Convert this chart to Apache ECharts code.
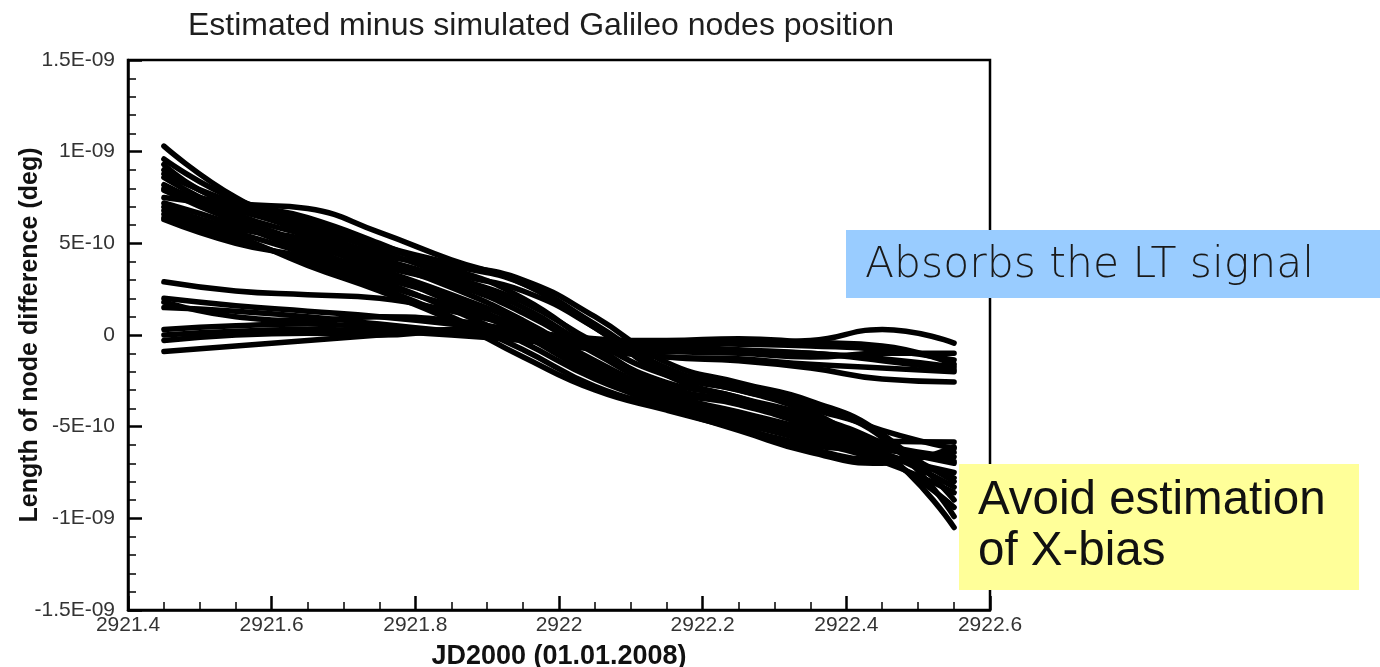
<!DOCTYPE html>
<html>
<head>
<meta charset="utf-8">
<script src="https://cdn.jsdelivr.net/npm/echarts@6/dist/echarts.min.js"></script>
<style>
html,body{margin:0;padding:0;background:#fff;}
#chart{width:1380px;height:667px;}
</style>
</head>
<body>
<div id="chart"></div>
<script>
// JD2000 sample epochs (days)
const jd = [2921.45, 2921.55, 2921.65, 2921.75, 2921.85, 2921.95, 2922.05, 2922.15, 2922.25, 2922.35, 2922.45, 2922.55];

// Node length differences, in units of 1E-10 deg
// Group A: curves that absorb the long-term signal
const a01 = [10.3, 7.5, 5.8, 4.4, 3.6, 2.0, -0.6, -2.8, -3.6, -4.6, -6.3, -10.5];
const a02 = [9.3, 7.2, 6.9, 5.6, 4.1, 2.8, 0.4, -2.0, -3.0, -4.0, -5.6, -9.9];
const a03 = [8.8, 7.2, 6.2, 4.9, 3.9, 3.0, 1.0, -1.5, -2.6, -3.6, -5.4, -9.0];
const a04 = [8.6, 6.6, 5.4, 4.0, 2.6, 0.8, -1.4, -3.2, -4.2, -5.2, -6.4, -8.3];
const a05 = [7.9, 6.2, 4.8, 3.2, 2.0, 0.2, -2.0, -3.6, -4.6, -5.6, -6.6, -7.5];
const a06 = [7.5, 6.8, 5.6, 4.2, 3.0, 1.5, -0.8, -2.6, -3.4, -4.8, -6.0, -6.65];
const a07 = [6.8, 5.6, 4.4, 3.0, 1.4, -0.4, -2.4, -3.8, -5.0, -6.2, -6.8, -6.4];
const a08 = [6.4, 5.2, 4.0, 2.6, 1.0, -0.8, -2.8, -4.0, -5.2, -6.4, -7.0, -6.1];
const a09 = [9.0, 7.0, 5.9, 4.6, 3.2, 1.8, -0.4, -2.2, -3.0, -4.2, -5.8, -5.84];
const a10 = [8.2, 6.4, 5.0, 3.6, 2.2, 0.6, -1.6, -3.4, -4.4, -5.4, -6.2, -7.0];
const a11 = [7.2, 6.0, 4.6, 3.4, 1.8, 0.0, -2.2, -3.9, -4.8, -5.8, -6.9, -8.6];
const a12 = [6.6, 5.4, 3.8, 2.4, 0.8, -1.2, -3.0, -4.1, -5.1, -6.0, -6.5, -7.8];
const a13 = [8.0, 7.0, 6.0, 4.8, 3.8, 2.8, 0.6, -1.8, -2.8, -3.8, -5.2, -6.2];
const a14 = [7.0, 5.8, 5.2, 3.8, 2.8, 1.2, -1.0, -3.0, -3.8, -5.0, -6.6, -9.4];
const a15 = [6.3, 5.0, 4.2, 2.8, 1.6, 0.4, -1.8, -3.4, -4.4, -5.6, -6.2, -6.9];
const a16 = [9.6, 7.4, 6.4, 5.0, 3.4, 2.4, 0.4, -2.2, -3.4, -4.4, -5.9, -8.0];
// Group B: curves that avoid estimation of X-bias
const b01 = [2.9, 2.4, 2.2, 2.0, 1.3, 0.4, -0.6, -1.2, -1.4, -1.8, -2.4, -2.56];
const b02 = [2.0, 1.6, 1.3, 1.0, 0.6, 0.1, -0.4, -0.8, -0.9, -1.0, -1.3, -1.75];
const b03 = [1.8, 1.0, 0.8, 1.0, 0.8, 0.2, -0.2, -0.4, -0.5, -0.6, -0.8, -1.36];
const b04 = [1.5, 1.3, 1.0, 0.6, 0.2, -0.2, -0.8, -1.2, -1.3, -1.6, -1.8, -2.0];
const b05 = [0.3, 0.5, 0.6, 0.4, 0.1, -0.2, -0.5, -0.5, -0.4, -0.3, 0.3, -0.44];
const b06 = [0.0, 0.2, 0.3, 0.2, 0.0, -0.3, -0.7, -0.9, -1.0, -1.2, -1.0, -1.0];
const b07 = [-0.3, 0.0, 0.1, 0.0, 0.2, -0.1, -0.3, -0.3, -0.2, -0.4, -0.6, -1.6];
const b08 = [-0.9, -0.6, -0.3, 0.0, 0.3, 0.1, -0.3, -0.6, -0.8, -1.0, -1.4, -1.9];

const xTickLabels = {"2921.4":"2921.4","2921.6":"2921.6","2921.8":"2921.8","2922":"2922","2922.2":"2922.2","2922.4":"2922.4","2922.6":"2922.6"};
const yTickLabels = ["-1.5E-09", "-1E-09", "-5E-10", "0", "5E-10", "1E-09", "1.5E-09"];

const allCurves = [a01,a02,a03,a04,a05,a06,a07,a08,a09,a10,a11,a12,a13,a14,a15,a16,
                   b01,b02,b03,b04,b05,b06,b07,b08];

const chart = echarts.init(document.getElementById('chart'), null, {renderer: 'canvas'});
const series = allCurves.map(function (vals, k) {
  return {
    type: 'line',
    name: 'curve' + (k + 1),
    data: jd.map(function (x, i) { return [x, vals[i]]; }),
    showSymbol: false,
    smooth: 0.5,
    silent: true,
    lineStyle: {color: '#000', width: 5.5, cap: 'round', join: 'round'}
  };
});

const FONT = '"Liberation Sans", Arial, Helvetica, sans-serif';

chart.setOption({
  animation: false,
  backgroundColor: '#fff',
  title: {
    text: 'Estimated minus simulated Galileo nodes position',
    left: 536, textAlign: 'center', top: 5,
    textStyle: {fontFamily: FONT, fontSize: 32, fontWeight: 'normal', color: '#1e1e1e'}
  },
  grid: {
    left: 128, right: 390, top: 60, bottom: 57,
    containLabel: false, outerBoundsMode: 'none',
    show: true, borderColor: '#000', borderWidth: 2.5, backgroundColor: '#fff'
  },
  xAxis: {
    type: 'value', min: 2921.4, max: 2922.6, interval: 0.2,
    name: 'JD2000 (01.01.2008)', nameLocation: 'middle', nameGap: 33, nameMoveOverlap: false,
    nameTextStyle: {fontFamily: FONT, fontSize: 27, fontWeight: 'bold', color: '#111'},
    axisLine: {show: true, onZero: false, lineStyle: {color: '#000', width: 2.5}},
    axisTick: {show: true, inside: true, length: 14, lineStyle: {color: '#000', width: 2.5}},
    minorTick: {show: true, splitNumber: 4, length: 8, lineStyle: {color: '#000', width: 1.5}},
    splitLine: {show: false},
    axisLabel: {
      fontFamily: FONT, fontSize: 21, color: '#333', margin: 5, hideOverlap: false,
      formatter: function (v) { const k = String(+v.toFixed(1)); return xTickLabels[k] || k; }
    }
  },
  yAxis: {
    type: 'value', min: -15, max: 15, interval: 5,
    name: 'Length of node difference (deg)', nameLocation: 'middle', nameGap: 85, nameMoveOverlap: false,
    nameTextStyle: {fontFamily: FONT, fontSize: 25, fontWeight: 'bold', color: '#111'},
    axisLine: {show: true, onZero: false, lineStyle: {color: '#000', width: 2.5}},
    axisTick: {show: true, inside: true, length: 14, lineStyle: {color: '#000', width: 2.5}},
    minorTick: {show: true, splitNumber: 5, length: 8, lineStyle: {color: '#000', width: 1.5}},
    splitLine: {show: false},
    axisLabel: {
      fontFamily: FONT, fontSize: 21, color: '#333', margin: 13, hideOverlap: false,
      formatter: function (v) { return yTickLabels[Math.round((v + 15) / 5)]; }
    }
  },
  series: series,
  graphic: [
    {type: 'rect', left: 846, top: 230, z: 100, shape: {width: 534, height: 68}, style: {fill: '#99ccff'}},
    {type: 'text', left: 865, top: 244, z: 101, style: {
      text: 'Absorbs the LT signal', fill: '#1a1a1a',
      font: '200 42.5px "DejaVu Sans ExtraLight", "DejaVu Sans", sans-serif'}},
    {type: 'rect', left: 959, top: 464, z: 100, shape: {width: 400, height: 126}, style: {fill: '#ffff99'}},
    {type: 'text', left: 978, top: 475, z: 101, style: {
      text: 'Avoid estimation\nof X-bias', fill: '#111', lineHeight: 51,
      font: '47.5px "Liberation Sans", Arial, sans-serif'}}
  ]
});
</script>
</body>
</html>
